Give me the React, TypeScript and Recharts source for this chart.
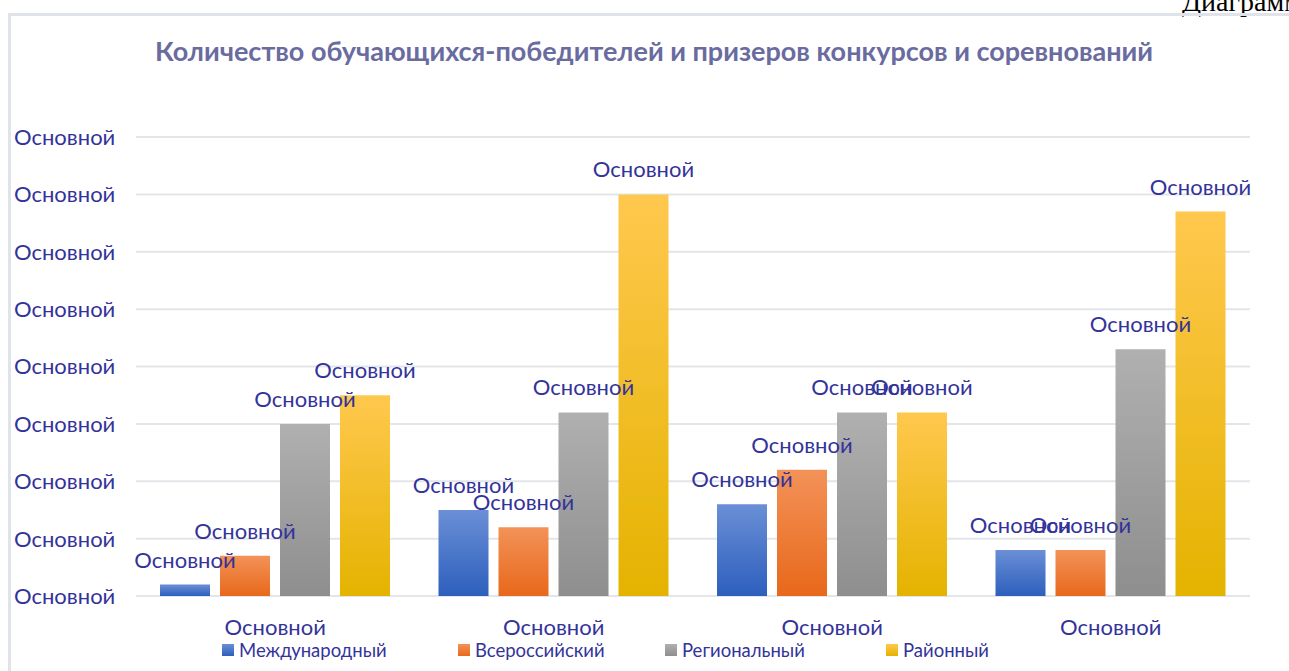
import { BarChart, Bar, XAxis, YAxis, CartesianGrid, LabelList } from 'recharts'

const categories = ['Основной', 'Основной', 'Основной', 'Основной']
const international = [2, 15, 16, 8]
const allRussian = [7, 12, 22, 8]
const regional = [30, 32, 32, 43]
const district = [35, 70, 32, 67]
const yTicks = [0, 10, 20, 30, 40, 50, 60, 70, 80]
const tickLabel = 'Основной'

const series = [
  { key: 'international', name: 'Международный', top: '#6a8fd6', bottom: '#2d5fbd' },
  { key: 'allRussian', name: 'Всероссийский', top: '#f39258', bottom: '#e8681b' },
  { key: 'regional', name: 'Региональный', top: '#b0b0b0', bottom: '#8e8e8e' },
  { key: 'district', name: 'Районный', top: '#ffc84e', bottom: '#e4b300' },
]

const data = categories.map((c, i) => ({
  name: c,
  international: international[i],
  allRussian: allRussian[i],
  regional: regional[i],
  district: district[i],
}))

const FONT = 'Lato, "Open Sans", sans-serif'
const TEXT = '#33339a'

function YTick({ y }: any) {
  return (
    <text x={14} y={y} dy="0.36em" fill={TEXT} fontSize={22} fontFamily={FONT}>
      {tickLabel}
    </text>
  )
}

function XTick({ x, payload }: any) {
  return (
    <text x={x} y={635} textAnchor="middle" fill={TEXT} fontSize={22} fontFamily={FONT}>
      {payload.value}
    </text>
  )
}

export default function App() {
  return (
    <div style={{ position: 'fixed', left: 0, top: 0, width: 1289, height: 671, overflow: 'hidden', background: '#fff' }}>
      <div
        style={{
          position: 'absolute', left: 1182, top: -12, fontSize: 28, lineHeight: '28px',
          fontFamily: '"Liberation Serif", "Times New Roman", serif', color: '#000', whiteSpace: 'nowrap',
        }}
      >
        Диаграмма
      </div>
      <div
        style={{
          position: 'absolute', left: 8, top: 13, width: 1320, height: 700,
          border: '3px solid #dfe4ea', boxSizing: 'border-box',
        }}
      />
      <div
        style={{
          position: 'absolute', left: 0, top: 34, width: 1308, textAlign: 'center',
          fontFamily: FONT, fontWeight: 700, fontSize: 27, color: '#6a6b9f',
        }}
      >
        Количество обучающихся-победителей и призеров конкурсов и соревнований
      </div>
      <div style={{ position: 'absolute', left: 0, top: 0 }}>
        <BarChart
          width={1289}
          height={671}
          data={data}
          margin={{ top: 137, right: 39, bottom: 0, left: 0 }}
          barSize={50}
          barGap={10}
        >
          <defs>
            {series.map((s) => (
              <linearGradient key={s.key} id={`grad-${s.key}`} x1="0" y1="0" x2="0" y2="1">
                <stop offset="0%" stopColor={s.top} />
                <stop offset="100%" stopColor={s.bottom} />
              </linearGradient>
            ))}
          </defs>
          <CartesianGrid vertical={false} stroke="#e2e6ea" strokeWidth={2} />
          <XAxis dataKey="name" axisLine={false} tickLine={false} tick={<XTick />} interval={0} height={75} />
          <YAxis
            domain={[0, 80]}
            ticks={yTicks}
            width={136}
            axisLine={false}
            tickLine={false}
            tick={<YTick />}
          />
          {series.map((s) => (
            <Bar key={s.key} dataKey={s.key} name={s.name} fill={`url(#grad-${s.key})`} isAnimationActive={false}>
              <LabelList
                dataKey={s.key}
                position="top"
                offset={17}
                formatter={() => tickLabel}
                fill={TEXT}
                fontSize={22}
                fontFamily={FONT}
              />
            </Bar>
          ))}
        </BarChart>
      </div>
      <div
        style={{
          position: 'absolute', left: 222, top: 639, display: 'flex', alignItems: 'center',
          fontFamily: FONT, fontSize: 18.5, color: TEXT,
        }}
      >
        {series.map((s, i) => (
          <div key={s.key} style={{ display: 'flex', alignItems: 'center', width: [236, 207, 221, 150][i] }}>
            <span
              style={{
                display: 'inline-block', width: 12, height: 12, marginRight: 5,
                background: `linear-gradient(${s.top}, ${s.bottom})`,
              }}
            />
            <span>{s.name}</span>
          </div>
        ))}
      </div>
    </div>
  )
}
